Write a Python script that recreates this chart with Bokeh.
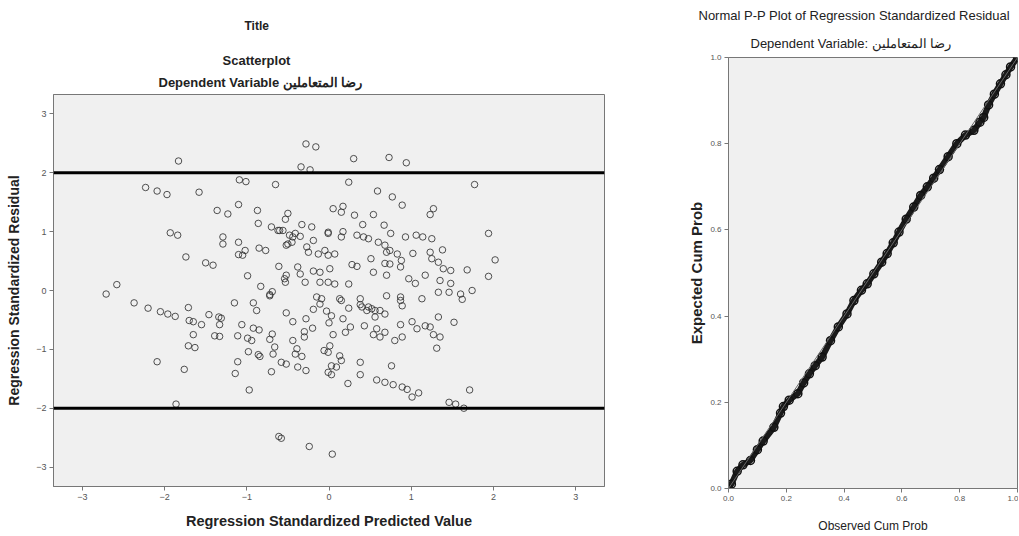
from bokeh.plotting import figure
from bokeh.layouts import row, column
from bokeh.models import Title, FixedTicker, Span, Range1d, PrintfTickFormatter
from bokeh.embed import file_html
from bokeh.resources import INLINE

# ---------------- data ----------------
pred_value = [
    -1.83, -2.23, -2.09, -1.97, -1.58, -1.09, -1.01, -0.65, -0.28, -0.16,
    -0.34, -0.23, -1.10, -1.36, -1.23, -0.87, -0.50, -0.53, -0.86, -0.70,
    -0.60, -0.41, -0.35, -0.33, -0.21, -1.93, -1.84, -1.29, -1.29, -1.10,
    -1.02, -1.10, -1.05, -0.85, -0.77, -1.74, -1.50, -1.41, -0.99, -0.61,
    -0.38, -0.35, -0.29, -0.52, -0.53, -0.19, -0.27, -0.25, -0.13, -0.83,
    -0.69, -2.58, -2.71, -2.37, -2.20, -2.05, -1.96, -1.87, -1.71, -1.70,
    -1.65, -1.55, -1.46, -1.34, -1.31, -1.33, -1.65, -1.39, -1.33, -1.71,
    -1.63, -2.09, -1.76, -1.15, -0.92, -0.88, -1.06, -0.92, -0.85, -1.11,
    -0.99, -0.94, -0.98, -0.86, -0.84, -1.11, -1.14, -0.97, -1.86, -0.72,
    -0.52, -0.44, -0.69, -0.72, -0.66, -0.68, -0.58, -0.52, -0.70, -0.44,
    -0.39, -0.41, -0.33, -0.38, -0.28, -0.28, -0.30, -0.30, -0.20, -0.19,
    -0.11, -0.09, -0.06, -0.61, -0.58, -0.24, 0.04, 0.01, -0.01, 0.13,
    0.15, 0.03, 0.09, 0.03, 0.23, 0.38, 0.38, 0.76, 0.58, 0.68,
    0.78, 0.89, 0.95, 1.09, 1.01, 1.71, 1.46, 1.54, 1.64, 0.13,
    0.24, 0.03, 0.17, 0.26, 0.20, 0.43, 0.38, 0.38, 0.48, 0.56,
    0.68, 0.56, 0.58, 0.54, 0.62, 0.68, 0.80, 0.89, 0.87, 1.01,
    1.07, 1.17, 1.23, 1.27, 1.35, 1.31, 1.33, 1.52, 0.89, 0.70,
    0.87, 1.13, 1.33, 1.46, 1.60, 1.74, 1.62, 0.30, 0.73, 0.94,
    0.24, 1.77, 0.59, 0.77, 0.89, 1.27, 1.23, 0.05, 0.17, 0.15,
    0.31, 0.54, 0.41, 0.67, 0.75, -0.01, 0.17, 0.15, 0.34, 0.42,
    0.48, 0.60, 0.68, 0.74, 0.70, 0.83, 0.93, 1.06, 1.14, 1.25,
    1.38, 1.23, 1.25, 1.33, 1.39, 1.48, 1.02, 0.88, 0.87, 0.51,
    0.28, 0.34, 0.68, 0.74, 0.54, 0.70, 1.68, 1.94, 2.02, 1.94,
    -0.01, 0.07, 0.01, -0.01, 0.07, 0.24, 0.97, 1.05, 1.17, 1.35,
    1.48, -0.01, -0.19, -0.05, -0.11, -0.11, 0.15, 0.40, 0.46, 0.52,
    0.62, 0.87, -0.72, -0.54, -0.15, -0.56, -0.48, -0.44, -0.50, -0.45,
    -0.52, -0.62, -0.03, 0.00, 0.05, -0.01,
]
residual = [
    2.20, 1.75, 1.69, 1.63, 1.67, 1.88, 1.85, 1.80, 2.49, 2.44,
    2.10, 2.05, 1.46, 1.36, 1.30, 1.36, 1.31, 1.21, 1.14, 1.08,
    1.02, 0.97, 0.92, 1.12, 1.08, 0.98, 0.94, 0.91, 0.79, 0.82,
    0.68, 0.61, 0.60, 0.72, 0.68, 0.57, 0.47, 0.43, 0.25, 0.41,
    0.40, 0.28, 0.14, 0.26, 0.14, 0.33, 0.74, 0.65, 0.62, 0.07,
    -0.02, 0.10, -0.06, -0.21, -0.30, -0.36, -0.40, -0.44, -0.29, -0.51,
    -0.53, -0.58, -0.41, -0.45, -0.47, -0.58, -0.75, -0.77, -0.78, -0.94,
    -0.97, -1.21, -1.34, -0.21, -0.21, -0.34, -0.58, -0.64, -0.67, -0.77,
    -0.81, -0.85, -1.04, -1.09, -1.12, -1.21, -1.41, -1.69, -1.93, -0.07,
    -0.38, -0.53, -0.74, -0.83, -0.96, -1.08, -1.22, -1.25, -1.38, -0.85,
    -0.99, -1.08, -1.12, -1.30, -1.36, -0.48, -0.70, -0.79, -0.64, -0.32,
    -0.23, -0.14, -1.02, -2.48, -2.51, -2.65, -2.78, -0.94, -1.05, -1.11,
    -1.19, -1.28, -1.30, -1.43, -1.58, -1.22, -1.43, -1.28, -1.52, -1.56,
    -1.60, -1.64, -1.68, -1.74, -1.81, -1.69, -1.90, -1.93, -2.00, -0.14,
    -0.30, -0.43, -0.48, -0.62, -0.71, -0.60, -0.14, -0.24, -0.28, -0.34,
    -0.40, -0.45, -0.65, -0.75, -0.79, -0.71, -0.85, -0.79, -0.58, -0.53,
    -0.65, -0.60, -0.62, -0.75, -0.79, -0.98, -0.45, -0.54, -0.26, -0.09,
    -0.17, -0.14, -0.03, -0.03, -0.06, 0.00, -0.15, 2.24, 2.26, 2.17,
    1.84, 1.80, 1.69, 1.59, 1.45, 1.39, 1.29, 1.39, 1.43, 1.33,
    1.28, 1.29, 1.12, 1.11, 0.97, 0.97, 1.00, 0.91, 0.94, 0.91,
    0.88, 0.82, 0.77, 0.68, 0.65, 0.62, 0.91, 0.94, 0.91, 0.88,
    0.69, 0.65, 0.54, 0.48, 0.37, 0.34, 0.63, 0.51, 0.40, 0.54,
    0.44, 0.41, 0.46, 0.45, 0.31, 0.26, 0.35, 0.97, 0.52, 0.24,
    0.60, 0.62, 0.37, 0.14, 0.11, 0.11, 0.20, 0.12, 0.26, 0.17,
    0.12, 0.99, 0.85, 0.68, 0.31, 0.14, -0.17, -0.28, -0.34, -0.31,
    -0.34, -0.11, -0.09, 0.20, -0.11, 1.02, 0.94, 0.91, 0.79, 0.82,
    0.77, 1.02, -0.35, -0.55, -0.75, -1.39,
]
ref_lines = [2.0, -2.0]
scatter_ticks = [-3, -2, -1, 0, 1, 2, 3]

observed_cum_prob = [
    0.00, 0.01, 0.03, 0.05, 0.076, 0.10, 0.12, 0.157, 0.18, 0.19,
    0.21, 0.24, 0.26, 0.28, 0.30, 0.324, 0.353, 0.38, 0.41, 0.434,
    0.46, 0.48, 0.503, 0.53, 0.549, 0.57, 0.59, 0.615, 0.641, 0.665,
    0.688, 0.71, 0.73, 0.76, 0.79, 0.82, 0.849, 0.87, 0.883, 0.90,
    0.92, 0.941, 0.96, 0.976, 1.00,
]
expected_cum_prob = [
    0.00, 0.01, 0.04, 0.055, 0.065, 0.09, 0.11, 0.142, 0.175, 0.19,
    0.205, 0.22, 0.245, 0.266, 0.285, 0.305, 0.343, 0.375, 0.405, 0.436,
    0.46, 0.475, 0.498, 0.525, 0.545, 0.57, 0.595, 0.625, 0.653, 0.68,
    0.70, 0.72, 0.74, 0.77, 0.80, 0.82, 0.831, 0.85, 0.861, 0.89,
    0.915, 0.939, 0.96, 0.978, 1.00,
]
diag_x = [0.0, 1.0]
diag_y = [0.0, 1.0]
pp_ticks = [0.0, 0.2, 0.4, 0.6, 0.8, 1.0]

FONT = "Liberation Sans"
GRID_BG = "#f0f0f0"
AXIS_COL = "#777777"
TICK_COL = "#555555"


def style_axes(p, label_size, label_style, tick_size):
    p.xgrid.visible = False
    p.ygrid.visible = False
    p.background_fill_color = GRID_BG
    p.border_fill_color = "white"
    p.outline_line_color = AXIS_COL
    p.outline_line_width = 1
    for ax in (p.xaxis[0], p.yaxis[0]):
        ax.axis_line_color = AXIS_COL
        ax.major_tick_line_color = AXIS_COL
        ax.major_tick_in = 0
        ax.major_tick_out = 4
        ax.minor_tick_line_color = None
        ax.major_label_text_font = FONT
        ax.major_label_text_font_size = tick_size
        ax.major_label_text_color = TICK_COL
        ax.major_label_standoff = 3
        ax.axis_label_text_font = FONT
        ax.axis_label_text_font_size = label_size
        ax.axis_label_text_font_style = label_style
        ax.axis_label_text_color = "#222222"


def set_title(t, text, size, style, offset, standoff, valign):
    t.text = text
    t.align = "left"
    t.offset = offset
    t.standoff = standoff
    t.vertical_align = valign
    t.text_font = FONT
    t.text_font_size = size
    t.text_font_style = style
    t.text_color = "#222222"


# ---------------- left: scatterplot ----------------
p1 = figure(width=650, height=535, output_backend="svg", toolbar_location=None,
            x_range=Range1d(-3.35, 3.35), y_range=Range1d(-3.33, 3.33),
            min_border_left=53, min_border_right=46, min_border_top=94, min_border_bottom=49)
style_axes(p1, "14px", "bold", "9px")
p1.xaxis.ticker = FixedTicker(ticks=scatter_ticks)
p1.yaxis.ticker = FixedTicker(ticks=scatter_ticks)
p1.xaxis.axis_label = "Regression Standardized Predicted Value"
p1.yaxis.axis_label = "Regression Standardized Residual"
p1.xaxis.axis_label_text_font_size = "14.5px"
p1.xaxis.axis_label_standoff = 10
p1.yaxis.axis_label_standoff = 11

# outermost title
set_title(p1.title, "Title", "12px", "bold", 191, 32, "top")
# inner titles: first added is nearest the frame
t_dep = Title()
set_title(t_dep, "Dependent Variable رضا المتعاملين", "13px", "bold", 105, 10, "bottom")
p1.add_layout(t_dep, "above")
t_sc = Title()
set_title(t_sc, "Scatterplot", "13px", "bold", 169, 0, "bottom")
p1.add_layout(t_sc, "above")

for v in ref_lines:
    p1.add_layout(Span(location=v, dimension="width", line_color="black", line_width=3))

p1.scatter(pred_value, residual, marker="circle", size=6.5, fill_color=None,
           line_color="#333333", line_alpha=0.85, line_width=1)

# ---------------- right: P-P plot ----------------
p2 = figure(width=368, height=535, output_backend="svg", toolbar_location=None,
            x_range=Range1d(0, 1), y_range=Range1d(0, 1),
            min_border_left=78, min_border_right=1, min_border_top=57, min_border_bottom=47)
style_axes(p2, "12px", "normal", "8px")
p2.xaxis.ticker = FixedTicker(ticks=pp_ticks)
p2.yaxis.ticker = FixedTicker(ticks=pp_ticks)
p2.xaxis.formatter = PrintfTickFormatter(format="%.1f")
p2.yaxis.formatter = PrintfTickFormatter(format="%.1f")
p2.xaxis.axis_label = "Observed Cum Prob"
p2.yaxis.axis_label = "Expected Cum Prob"
p2.yaxis.axis_label_text_font_style = "bold"
p2.yaxis.axis_label_text_font_size = "15px"
p2.xaxis.axis_label_standoff = 15
p2.yaxis.axis_label_standoff = 2

set_title(p2.title, "Normal P-P Plot of Regression Standardized Residual", "13px", "normal", -30, 4, "top")
t_dep2 = Title()
set_title(t_dep2, "Dependent Variable: رضا المتعاملين", "13px", "normal", 22, 14, "bottom")
p2.add_layout(t_dep2, "above")

p2.line(observed_cum_prob, expected_cum_prob, line_color="#1a1a1a", line_width=6)
p2.scatter(observed_cum_prob, expected_cum_prob, marker="circle", size=8,
           fill_color=None, line_color="#111111", line_width=1.5)
p2.line(diag_x, diag_y, line_color="#666666", line_width=1)

layout = row(column(p1), column(p2))
open("out.html", "w").write(file_html(layout, INLINE))
